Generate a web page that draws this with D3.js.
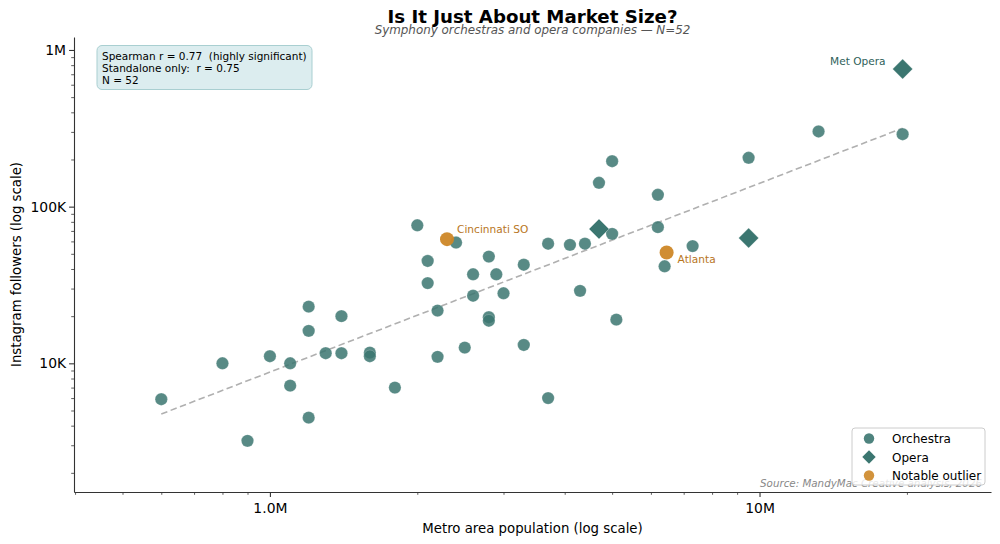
<!DOCTYPE html>
<html>
<head>
<meta charset="utf-8">
<script src="https://cdn.jsdelivr.net/npm/d3@7"></script>
<style>
  body { margin: 0; background: #fff; }
  svg { font-family: 'DejaVu Sans', sans-serif; display: block; }
</style>
</head>
<body>
<svg></svg>
<script>
// metro population (people) and instagram followers
const orchestraPop = [0.60e6, 0.80e6, 0.90e6, 1.0e6, 1.1e6, 1.1e6, 1.2e6, 1.2e6, 1.2e6, 1.3e6,
  1.4e6, 1.4e6, 1.6e6, 1.6e6, 1.8e6, 2.0e6, 2.4e6, 2.1e6, 2.1e6, 2.8e6,
  2.6e6, 2.9e6, 3.3e6, 3.7e6, 4.1e6, 4.4e6, 5.0e6, 2.6e6, 3.0e6, 2.2e6,
  2.8e6, 2.8e6, 4.3e6, 5.1e6, 2.5e6, 2.2e6, 3.3e6, 3.7e6, 5.0e6, 4.7e6,
  6.2e6, 9.5e6, 6.2e6, 7.3e6, 6.4e6, 13.2e6, 19.6e6];
const orchestraFollowers = [5900, 10000, 3200, 11100, 10000, 7200, 23000, 16100, 4500, 11600,
  20000, 11600, 11700, 11100, 7000, 76000, 59000, 45000, 32500, 48000,
  37000, 37000, 42600, 58000, 57000, 58000, 67000, 27000, 28000, 21700,
  19700, 18700, 29000, 19000, 12600, 11000, 13100, 6000, 195000, 142000,
  119000, 205000, 74000, 56000, 41600, 302000, 290000];

const operaNames = ['', '', 'Met Opera'];
const operaPop = [4.7e6, 9.5e6, 19.6e6];
const operaFollowers = [72000, 63000, 755000];

const outlierNames = ['Cincinnati SO', 'Atlanta'];
const outlierPop = [2.3e6, 6.46e6];
const outlierFollowers = [62000, 51000];

const trendPop = [0.6e6, 19.6e6];
const trendFollowers = [4750, 317000];

const xTicks = [1e6, 1e7];
const xTickLabels = ['1.0M', '10M'];
const yTicks = [1e4, 1e5, 1e6];
const yTickLabels = ['10K', '100K', '1M'];

const statLines = ['Spearman r = 0.77  (highly significant)', 'Standalone only:  r = 0.75', 'N = 52'];

const width = 1000;
const height = 544;
const plot = { left: 74, right: 991, top: 37, bottom: 492 };

const teal = '#3b7670';
const orange = '#cd8727';

const svg = d3.select('svg')
  .attr('width', width)
  .attr('height', height);

const x = d3.scaleLog()
  .domain([3.98e5, 2.97e7])
  .range([plot.left, plot.right]);

const y = d3.scaleLog()
  .domain([1509, 1.21e6])
  .range([plot.bottom, plot.top]);

// minor ticks
const xMinor = [];
const yMinor = [];
[1e5, 1e6, 1e7].forEach(b => { for (let i = 2; i <= 9; i++) xMinor.push(b * i); });
[1e3, 1e4, 1e5].forEach(b => { for (let i = 2; i <= 9; i++) yMinor.push(b * i); });

const xMinorIn = xMinor.filter(v => v >= x.domain()[0] && v <= x.domain()[1]);
const yMinorIn = yMinor.filter(v => v >= y.domain()[0] && v <= y.domain()[1]);

// x axis
svg.append('g')
  .attr('transform', `translate(0, ${plot.bottom})`)
  .call(d3.axisBottom(x).tickValues(xMinorIn).tickSize(2.8).tickFormat(''))
  .call(g => g.select('.domain').remove())
  .selectAll('line').attr('stroke', '#333').attr('stroke-width', 0.8);

const xAxis = svg.append('g')
  .attr('transform', `translate(0, ${plot.bottom})`)
  .call(d3.axisBottom(x).tickValues(xTicks).tickSize(4.9).tickSizeOuter(0)
    .tickFormat((d, i) => xTickLabels[i]));
xAxis.select('.domain').attr('stroke', '#333').attr('stroke-width', 1.1);
xAxis.selectAll('line').attr('stroke', '#333').attr('stroke-width', 1.1);
xAxis.selectAll('text').attr('font-size', 13.9).attr('fill', '#000').attr('dy', '0.95em')
  .attr('font-family', 'DejaVu Sans');

// y axis
svg.append('g')
  .attr('transform', `translate(${plot.left}, 0)`)
  .call(d3.axisLeft(y).tickValues(yMinorIn).tickSize(2.8).tickFormat(''))
  .call(g => g.select('.domain').remove())
  .selectAll('line').attr('stroke', '#333').attr('stroke-width', 0.8);

const yAxis = svg.append('g')
  .attr('transform', `translate(${plot.left}, 0)`)
  .call(d3.axisLeft(y).tickValues(yTicks).tickSize(4.9).tickSizeOuter(0)
    .tickFormat((d, i) => yTickLabels[i]));
yAxis.select('.domain').attr('stroke', '#333').attr('stroke-width', 1.1);
yAxis.selectAll('line').attr('stroke', '#333').attr('stroke-width', 1.1);
yAxis.selectAll('text').attr('font-size', 13.9).attr('fill', '#000')
  .attr('font-family', 'DejaVu Sans');

// axis titles
svg.append('text')
  .attr('x', (plot.left + plot.right) / 2)
  .attr('y', 533)
  .attr('text-anchor', 'middle')
  .attr('font-size', 13.3)
  .text('Metro area population (log scale)');

svg.append('text')
  .attr('transform', `translate(21, ${(plot.top + plot.bottom) / 2}) rotate(-90)`)
  .attr('text-anchor', 'middle')
  .attr('font-size', 13.3)
  .text('Instagram followers (log scale)');

// title
svg.append('text')
  .attr('x', (plot.left + plot.right) / 2)
  .attr('y', 23)
  .attr('text-anchor', 'middle')
  .attr('font-size', 18.2)
  .attr('font-weight', 'bold')
  .text('Is It Just About Market Size?');

svg.append('text')
  .attr('x', (plot.left + plot.right) / 2)
  .attr('y', 33.5)
  .attr('text-anchor', 'middle')
  .attr('font-size', 11.9)
  .attr('font-style', 'italic')
  .attr('fill', '#555')
  .text('Symphony orchestras and opera companies \u2014 N=52');

// trend line
const trend = trendPop.map((p, i) => [p, trendFollowers[i]]);
svg.append('path')
  .datum(trend)
  .attr('d', d3.line().x(d => x(d[0])).y(d => y(d[1])))
  .attr('fill', 'none')
  .attr('stroke', '#b0b0b0')
  .attr('stroke-width', 1.6)
  .attr('stroke-dasharray', '6.5,3.5');

// orchestras
const orchestras = orchestraPop.map((p, i) => ({ pop: p, followers: orchestraFollowers[i] }));
svg.append('g')
  .selectAll('circle')
  .data(orchestras)
  .enter()
  .append('circle')
  .attr('cx', d => x(d.pop))
  .attr('cy', d => y(d.followers))
  .attr('r', 6.2)
  .attr('fill', teal)
  .attr('fill-opacity', 0.85)
  .attr('stroke', '#fff')
  .attr('stroke-opacity', 0.35)
  .attr('stroke-width', 0.6);

// operas
const diamond = d3.symbol().type(d3.symbolSquare);
const operas = operaPop.map((p, i) => ({ name: operaNames[i], pop: p, followers: operaFollowers[i] }));
svg.append('g')
  .selectAll('path')
  .data(operas)
  .enter()
  .append('path')
  .attr('d', diamond.size(200)())
  .attr('transform', d => `translate(${x(d.pop)}, ${y(d.followers)}) rotate(45)`)
  .attr('fill', teal)
  .attr('stroke', '#fff')
  .attr('stroke-opacity', 0.4)
  .attr('stroke-width', 0.6);

svg.append('g')
  .selectAll('text')
  .data(operas.filter(d => d.name))
  .enter()
  .append('text')
  .attr('x', d => x(d.pop) - 17)
  .attr('y', d => y(d.followers) - 4)
  .attr('text-anchor', 'end')
  .attr('font-size', 10.6)
  .attr('fill', '#2f5f5a')
  .text(d => d.name);

// notable outliers
const outliers = outlierPop.map((p, i) => ({ name: outlierNames[i], pop: p, followers: outlierFollowers[i] }));
svg.append('g')
  .selectAll('circle')
  .data(outliers)
  .enter()
  .append('circle')
  .attr('cx', d => x(d.pop))
  .attr('cy', d => y(d.followers))
  .attr('r', 7)
  .attr('fill', orange)
  .attr('fill-opacity', 0.95);

svg.append('g')
  .selectAll('text')
  .data(outliers)
  .enter()
  .append('text')
  .attr('x', (d, i) => x(d.pop) + (i === 0 ? 10 : 11))
  .attr('y', (d, i) => y(d.followers) + (i === 0 ? -6 : 11))
  .attr('font-size', 10.6)
  .attr('fill', '#b8761d')
  .text(d => d.name);

// stats box
const statBox = svg.append('g').attr('transform', 'translate(97, 45.5)');
statBox.append('rect')
  .attr('width', 215)
  .attr('height', 44)
  .attr('rx', 5)
  .attr('fill', '#dcedef')
  .attr('stroke', '#a9cfd1')
  .attr('stroke-width', 1);
statBox.selectAll('text')
  .data(statLines)
  .enter()
  .append('text')
  .attr('x', 5)
  .attr('y', (d, i) => 14 + i * 12)
  .attr('font-size', 10.5)
  .attr('xml:space', 'preserve')
  .style('white-space', 'pre')
  .text(d => d);

// source note
svg.append('text')
  .attr('x', 982)
  .attr('y', 487)
  .attr('text-anchor', 'end')
  .attr('font-size', 10.3)
  .attr('font-style', 'italic')
  .attr('fill', '#888')
  .text('Source: MandyMac Creative analysis, 2026');

// legend
const legendItems = ['Orchestra', 'Opera', 'Notable outlier'];
const legend = svg.append('g').attr('transform', 'translate(852, 428)');
legend.append('rect')
  .attr('width', 133)
  .attr('height', 57)
  .attr('rx', 3)
  .attr('fill', '#fff')
  .attr('fill-opacity', 0.8)
  .attr('stroke', '#ccc');
legendItems.forEach((name, i) => {
  const ly = 10.5 + i * 18.5;
  if (name === 'Opera') {
    legend.append('path')
      .attr('d', d3.symbol().type(d3.symbolSquare).size(90)())
      .attr('transform', `translate(17, ${ly}) rotate(45)`)
      .attr('fill', teal);
  } else {
    legend.append('circle')
      .attr('cx', 17)
      .attr('cy', ly)
      .attr('r', 5.2)
      .attr('fill', name === 'Orchestra' ? teal : orange)
      .attr('fill-opacity', 0.9);
  }
  legend.append('text')
    .attr('x', 40)
    .attr('y', ly + 4.5)
    .attr('font-size', 12)
    .text(name);
});
</script>
</body>
</html>
